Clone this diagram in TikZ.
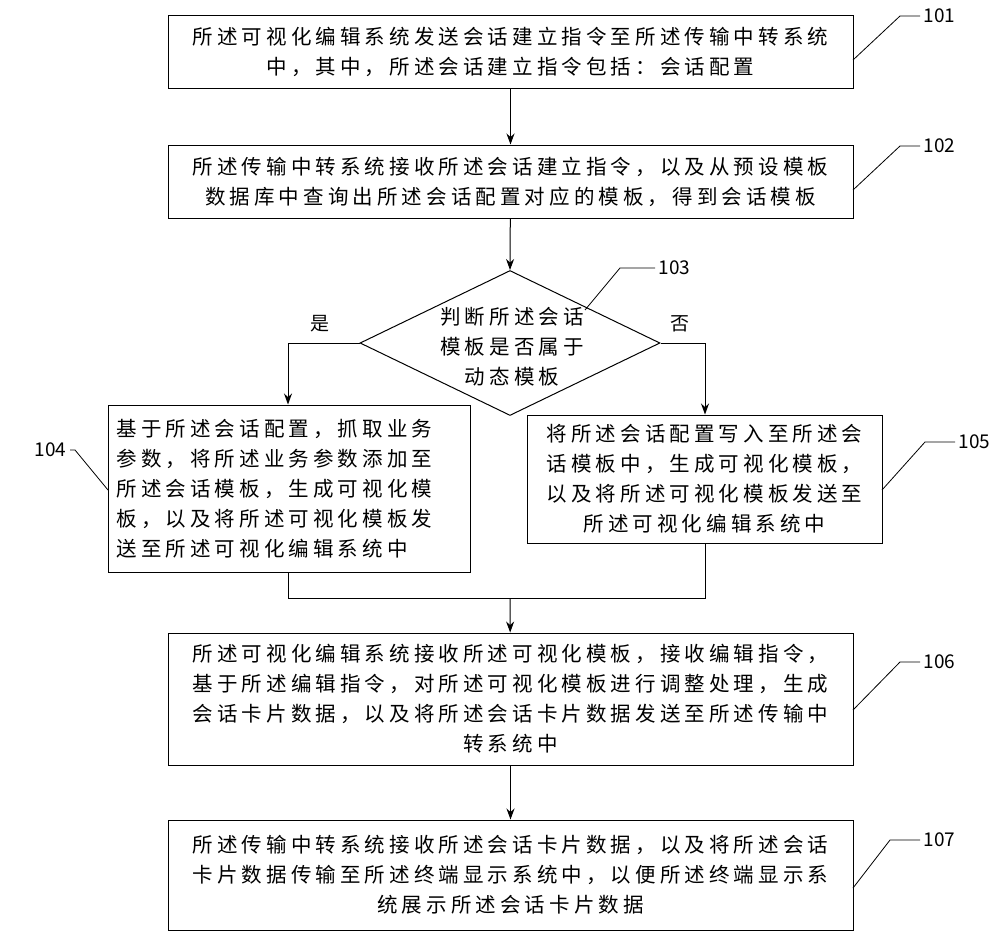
\documentclass[tikz,border=0pt]{standalone}
\usepackage{fontspec}
\setmainfont{Noto Sans CJK SC}[LetterSpace=20]
\newfontfamily\numfont{Noto Sans CJK SC}
\usetikzlibrary{shapes.geometric,arrows.meta}
\begin{document}
\begin{tikzpicture}[x=1pt,y=-1pt,
  box/.style={draw,line width=1pt,align=center,font=\fontsize{20.5}{30}\selectfont,inner sep=0},
  lbl/.style={font=\numfont\fontsize{19}{22}\selectfont},
  arr/.style={line width=1pt,-{Stealth[length=11pt,width=8pt]}},
  ln/.style={line width=0.8pt}]
\useasboundingbox (0,0) rectangle (1000,937);
\node[box,minimum width=685,minimum height=73] (b1) at (510.5,51.5) {所述可视化编辑系统发送会话建立指令至所述传输中转系统\\中，其中，所述会话建立指令包括：会话配置};
\node[box,minimum width=685,minimum height=73] (b2) at (510.5,181.5) {所述传输中转系统接收所述会话建立指令，以及从预设模板\\数据库中查询出所述会话配置对应的模板，得到会话模板};
\node[draw,line width=1pt,diamond,aspect=2.07,inner sep=0,minimum width=300,minimum height=145] (d) at (510,343) {};
\node[align=center,font=\fontsize{20.5}{30}\selectfont] at (512,347) {判断所述会话\\模板是否属于\\动态模板};
\node[box,minimum width=362,minimum height=167] (b4) at (289,488.5) {\begin{minipage}{345pt}\fontsize{20.5}{30}\selectfont 基于所述会话配置，抓取业务\\参数，将所述业务参数添加至\\所述会话模板，生成可视化模\\板，以及将所述可视化模板发\\送至所述可视化编辑系统中\end{minipage}};
\node[box,minimum width=355,minimum height=128] (b5) at (704.5,479) {将所述会话配置写入至所述会\\话模板中，生成可视化模板，\\以及将所述可视化模板发送至\\所述可视化编辑系统中};
\node[box,minimum width=685,minimum height=132] (b6) at (510.5,699) {所述可视化编辑系统接收所述可视化模板，接收编辑指令，\\基于所述编辑指令，对所述可视化模板进行调整处理，生成\\会话卡片数据，以及将所述会话卡片数据发送至所述传输中\\转系统中};
\node[box,minimum width=685,minimum height=110] (b7) at (510.5,875) {所述传输中转系统接收所述会话卡片数据，以及将所述会话\\卡片数据传输至所述终端显示系统中，以便所述终端显示系\\统展示所述会话卡片数据};
\draw[arr] (b1) -- (b2);
\draw[arr] (b2) -- (d.north);
\draw[arr] (d.west) -| (b4.north -| 288,0);
\draw[arr] (d.east) -| (b5.north -| 705,0);
\coordinate (m) at (510,598);
\draw[ln] (b4.south -| 288,0) |- (m) -| (b5.south -| 705,0);
\draw[arr] (m) -- (b6);
\draw[arr] (b6) -- (b7);
\node[lbl] at (320,324) {是};
\node[lbl] at (680,324) {否};
\node[lbl,anchor=west] (l1) at (920,16) {101};
\draw[ln] (853,60) -- (900,16) -- (920,16);
\node[lbl,anchor=west] (l2) at (920,146) {102};
\draw[ln] (853,190) -- (900,146) -- (920,146);
\node[lbl,anchor=west] (l3) at (655,268) {103};
\draw[ln] (585,310) -- (620,268) -- (655,268);
\node[lbl,anchor=east] (l4) at (70,450) {104};
\draw[ln] (108,490) -- (75,450) -- (70,450);
\node[lbl,anchor=west] (l5) at (955,442) {105};
\draw[ln] (882,490) -- (925,442) -- (955,442);
\node[lbl,anchor=west] (l6) at (920,662) {106};
\draw[ln] (853,710) -- (900,662) -- (920,662);
\node[lbl,anchor=west] (l7) at (920,840) {107};
\draw[ln] (853,888) -- (890,840) -- (920,840);
\end{tikzpicture}
\end{document}
